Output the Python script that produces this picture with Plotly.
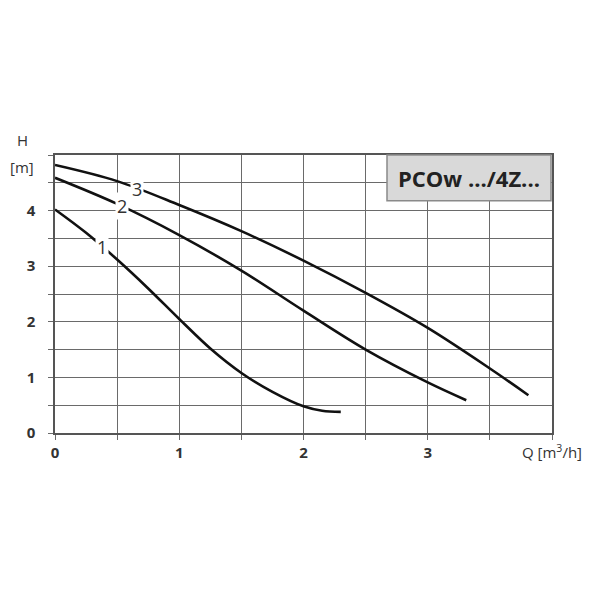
import numpy as np
import plotly.graph_objects as go

# Curve data (Q in m3/h, H in m)
q1 = [0, 0.25, 0.5, 0.75, 1.0, 1.25, 1.5, 1.75, 2.0, 2.15, 2.3]
h1 = [4.02, 3.60, 3.12, 2.60, 2.05, 1.52, 1.08, 0.74, 0.48, 0.40, 0.38]

q2 = [0, 0.5, 1.0, 1.5, 2.0, 2.5, 3.0, 3.31]
h2 = [4.59, 4.12, 3.56, 2.92, 2.20, 1.50, 0.91, 0.59]

q3 = [0, 0.5, 1.0, 1.5, 2.0, 2.5, 3.0, 3.5, 3.81]
h3 = [4.82, 4.53, 4.10, 3.63, 3.10, 2.52, 1.89, 1.16, 0.68]

curve_names = ["1", "2", "3"]
label_q = [0.38, 0.54, 0.66]

x_ticks = [0, 1, 2, 3]
y_ticks = [0, 1, 2, 3, 4]
title_text = "PCOw .../4Z..."

fig = go.Figure()
curves = [(q1, h1), (q2, h2), (q3, h3)]
for name, (q, h) in zip(curve_names, curves):
    fig.add_trace(go.Scatter(x=q, y=h, mode="lines", name=name,
                             line=dict(color="#111111", width=2.6, shape="spline", smoothing=1.0),
                             hoverinfo="skip"))

for name, (q, h), lq in zip(curve_names, curves, label_q):
    fig.add_annotation(x=lq, y=float(np.interp(lq, q, h)), text=name, showarrow=False,
                       xanchor="center", yanchor="middle",
                       font=dict(family="Open Sans", size=18, color="#333333"),
                       bgcolor="white", borderpad=1, xref="x", yref="y")

grid_col = "#6a6a6a"
fig.update_xaxes(range=[0, 4], tickvals=x_ticks, ticktext=[str(v) for v in x_ticks],
                 showgrid=True, gridcolor=grid_col, gridwidth=1,
                 ticks="outside", ticklen=5, tickcolor=grid_col,
                 minor=dict(dtick=0.5, showgrid=True, gridcolor=grid_col, gridwidth=1,
                            ticks="outside", ticklen=5, tickcolor=grid_col),
                 showline=True, linecolor="#555555", linewidth=1.5, mirror=True,
                 zeroline=False, automargin=False,
                 tickfont=dict(family="Open Sans", size=15, color="#333333", weight="bold"))
fig.update_yaxes(range=[0, 5], tickvals=y_ticks, ticktext=[str(v) for v in y_ticks],
                 showgrid=True, gridcolor=grid_col, gridwidth=1,
                 ticks="outside", ticklen=5, tickcolor=grid_col,
                 minor=dict(dtick=0.5, showgrid=True, gridcolor=grid_col, gridwidth=1,
                            ticks="outside", ticklen=5, tickcolor=grid_col),
                 showline=True, linecolor="#555555", linewidth=1.5, mirror=True,
                 zeroline=False, automargin=False, ticklabelstandoff=10,
                 tickfont=dict(family="Open Sans", size=15, color="#333333", weight="bold"))

# Title box
fig.add_shape(type="rect", xref="paper", yref="paper", x0=0.668, x1=0.998, y0=0.835, y1=1.0,
              fillcolor="#d9d9d9", line=dict(color="#8a8a8a", width=1.5), layer="above")
fig.add_annotation(xref="paper", yref="paper", x=0.833, y=0.9175, text="<b>" + title_text + "</b>",
                   xanchor="center", yanchor="middle",
                   showarrow=False, font=dict(family="Open Sans", size=22, color="#222222"))

axis_font = dict(family="Open Sans", size=15, color="#333333")
fig.add_annotation(xref="paper", yref="paper", x=-0.066, y=1.054, text="H", showarrow=False,
                   xanchor="center", yanchor="middle", font=axis_font)
fig.add_annotation(xref="paper", yref="paper", x=-0.066, y=0.957, text="[m]", showarrow=False,
                   xanchor="center", yanchor="middle", font=axis_font)
fig.add_annotation(xref="paper", yref="paper", x=1.064, y=-0.068, text="Q [m<sup>3</sup>/h]",
                   showarrow=False, font=axis_font, xanchor="right", yanchor="middle")

fig.update_layout(width=600, height=600, margin=dict(l=47, r=56, t=147, b=175),
                  paper_bgcolor="white", plot_bgcolor="white", showlegend=False)

fig.write_html("out.html")
